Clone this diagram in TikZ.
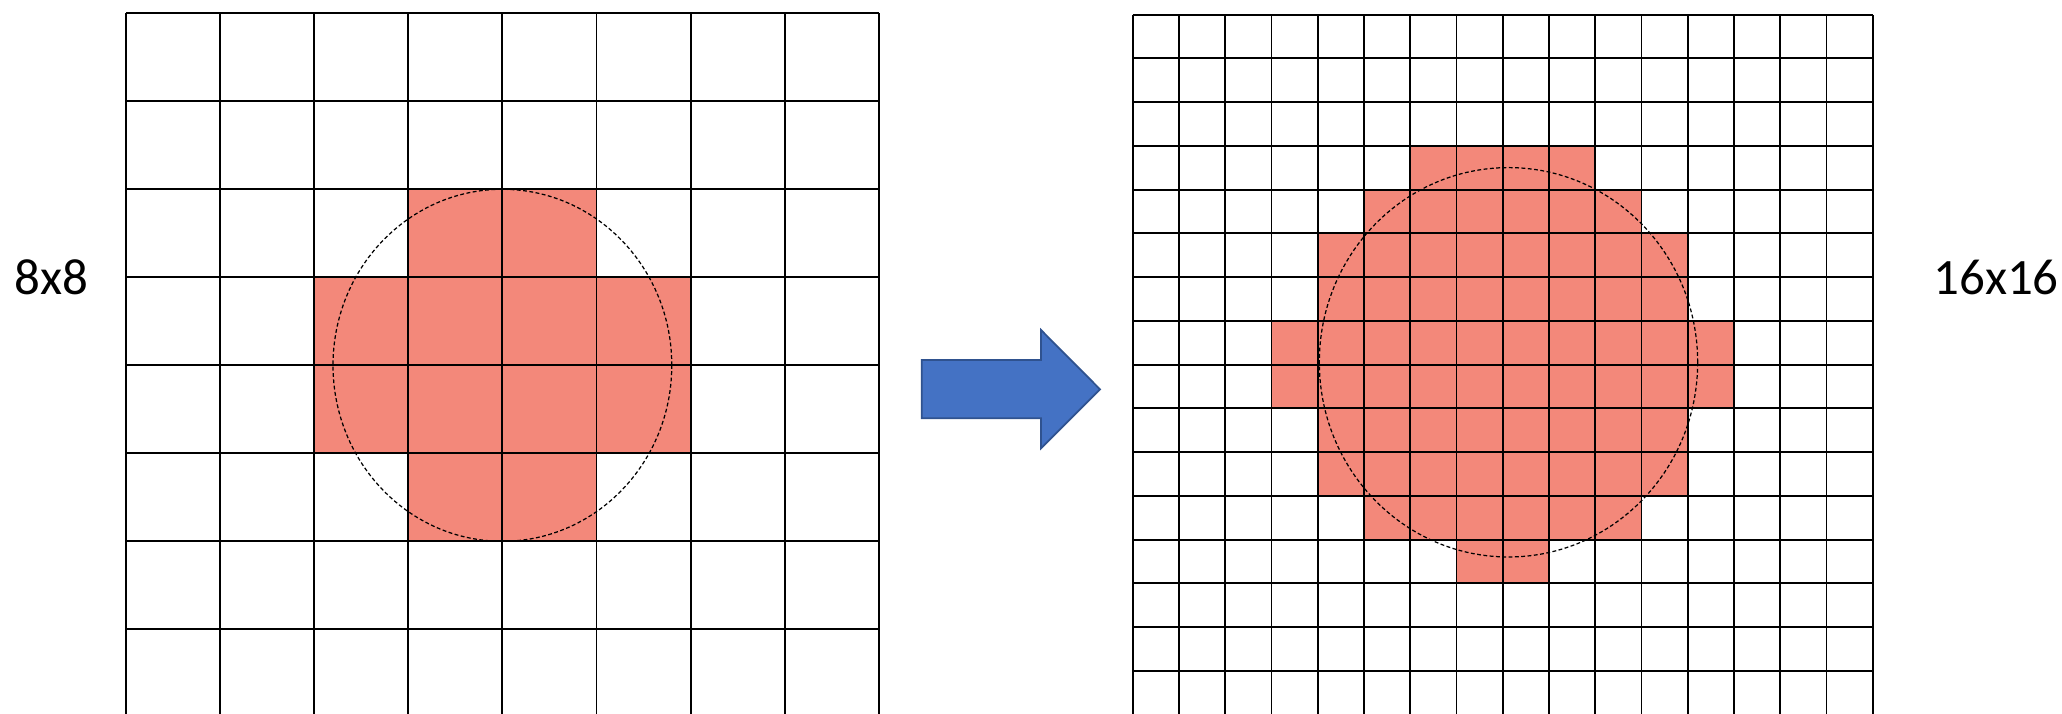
\documentclass[tikz,border=0pt]{standalone}
\usepackage{fontspec}
\setmainfont{Carlito}
\usepackage{tikz}
\definecolor{cellred}{HTML}{F3887A}
\definecolor{arrowblue}{HTML}{4472C4}
\definecolor{arrowedge}{HTML}{2F528F}

\begin{document}
\begin{tikzpicture}[gridline/.style={line width=0.55pt},
  ring/.style={line width=0.35pt,dash pattern=on 1.1pt off 0.7pt}]
\useasboundingbox (0,0) rectangle (20.62,7.13);
\clip (0,0) rectangle (20.62,7.13);
% coarse grid
\begin{scope}[shift={(1.26,-0.043)},x=0.941cm,y=0.88cm]
\fill[cellred] (3,5) rectangle (5,6);
\fill[cellred] (2,3) rectangle (6,5);
\fill[cellred] (3,2) rectangle (5,3);
\foreach \i in {0,...,8} \draw[gridline] (\i,0) -- (\i,8);
\foreach \j in {0,...,8} \draw[gridline] (0,\j) -- (8,\j);
\draw[ring] (4,4) ellipse [x radius=1.8, y radius=2];
\end{scope}
% fine grid
\begin{scope}[shift={(11.327,-0.017)},x=0.4625cm,y=0.4375cm]
\fill[cellred] (6,12) rectangle (10,13);
\fill[cellred] (5,11) rectangle (11,12);
\fill[cellred] (4,9) rectangle (12,11);
\fill[cellred] (3,7) rectangle (13,9);
\fill[cellred] (4,5) rectangle (12,7);
\fill[cellred] (5,4) rectangle (11,5);
\fill[cellred] (7,3) rectangle (9,4);
\foreach \i in {0,...,16} \draw[gridline] (\i,0) -- (\i,16);
\foreach \j in {0,...,16} \draw[gridline] (0,\j) -- (16,\j);
\draw[ring] (8.125,8.055) ellipse [x radius=4.09, y radius=4.45];
\end{scope}
% arrow
\draw[draw=arrowedge, fill=arrowblue, line width=0.5pt] (9.217,3.53) -- (10.41,3.53) -- (10.41,3.83)
  -- (11.00,3.237) -- (10.41,2.647) -- (10.41,2.947) -- (9.217,2.947) -- cycle;
\node (size8) at (0.515,4.36) {\fontsize{14.5}{17}\selectfont 8x8};
\node (size16) at (19.96,4.36) {\fontsize{14.5}{17}\selectfont 16x16};
\end{tikzpicture}
\end{document}
